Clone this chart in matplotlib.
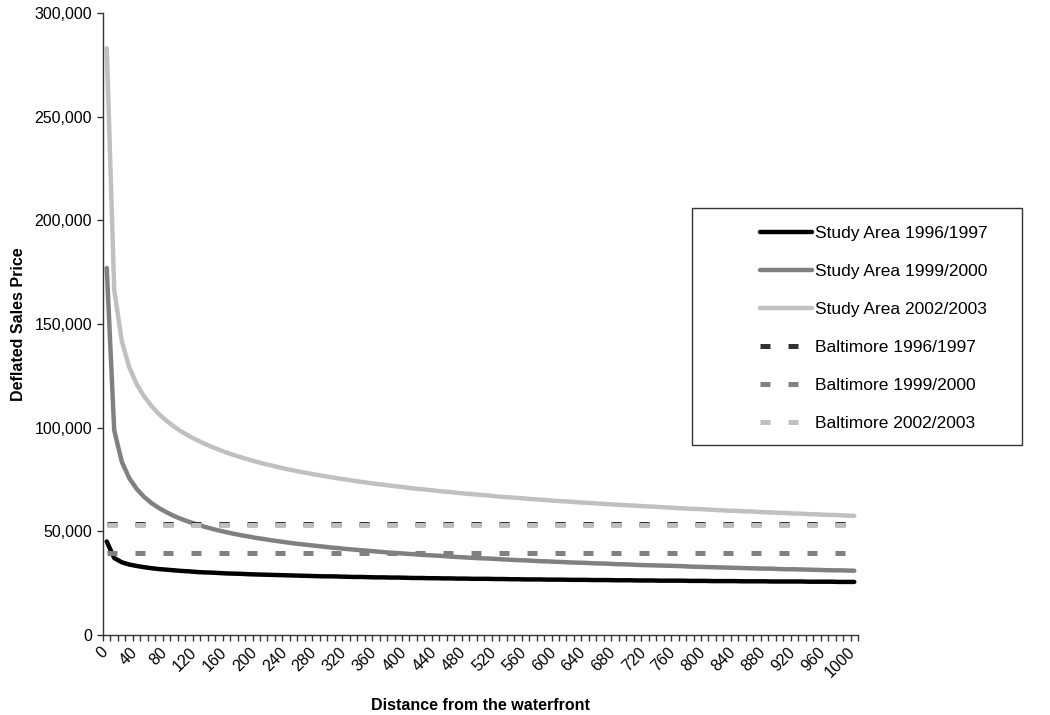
import numpy as np
import matplotlib.pyplot as plt
from matplotlib.patches import Rectangle
from matplotlib.ticker import FuncFormatter
from matplotlib.transforms import ScaledTranslation

plt.rcParams['font.family'] = ['Liberation Sans', 'DejaVu Sans']

# distance categories (every 10 units)
distance = list(range(0, 1001, 10))

# Study area curves
study_9697 = [
    45100, 37100, 35100, 34000, 33300, 32700, 32200, 31800, 31500, 31200,
    30900, 30700, 30400, 30200, 30100, 29900, 29700, 29600, 29500, 29300,
    29200, 29100, 29000, 28900, 28800, 28700, 28600, 28500, 28400, 28300,
    28300, 28200, 28100, 28000, 28000, 27900, 27800, 27800, 27700, 27700,
    27600, 27500, 27500, 27400, 27400, 27300, 27300, 27200, 27200, 27100,
    27100, 27100, 27000, 27000, 26900, 26900, 26800, 26800, 26800, 26700,
    26700, 26700, 26600, 26600, 26600, 26500, 26500, 26500, 26400, 26400,
    26400, 26300, 26300, 26300, 26200, 26200, 26200, 26200, 26100, 26100,
    26100, 26000, 26000, 26000, 26000, 25900, 25900, 25900, 25900, 25800,
    25800, 25800, 25800, 25800, 25700, 25700, 25700, 25700, 25600, 25600,
    25600,
]
study_9900 = [
    177000, 98800, 83700, 75700, 70500, 66600, 63600, 61200, 59200, 57400,
    55900, 54600, 53400, 52300, 51300, 50400, 49600, 48800, 48100, 47500,
    46800, 46300, 45700, 45200, 44700, 44200, 43800, 43400, 43000, 42600,
    42200, 41900, 41500, 41200, 40900, 40600, 40300, 40000, 39700, 39500,
    39200, 39000, 38700, 38500, 38300, 38100, 37800, 37600, 37400, 37200,
    37000, 36900, 36700, 36500, 36300, 36100, 36000, 35800, 35600, 35500,
    35300, 35200, 35000, 34900, 34800, 34600, 34500, 34400, 34200, 34100,
    34000, 33800, 33700, 33600, 33500, 33400, 33300, 33200, 33000, 32900,
    32800, 32700, 32600, 32500, 32400, 32300, 32200, 32100, 32000, 32000,
    31800, 31700, 31700, 31600, 31500, 31400, 31300, 31200, 31200, 31100,
    31000,
]
study_0203 = [
    283000, 166500, 142000, 129200, 121000, 115100, 110400, 106500, 103300, 100500,
    98100, 96000, 94100, 92400, 90800, 89400, 88000, 86800, 85700, 84600,
    83600, 82600, 81800, 80900, 80100, 79400, 78600, 78000, 77300, 76700,
    76100, 75500, 75000, 74400, 73900, 73400, 72900, 72500, 72000, 71600,
    71200, 70700, 70400, 70000, 69600, 69200, 68900, 68500, 68200, 67900,
    67600, 67300, 66900, 66600, 66400, 66100, 65800, 65500, 65300, 65000,
    64700, 64500, 64300, 64000, 63800, 63600, 63300, 63100, 62900, 62700,
    62500, 62300, 62100, 61900, 61700, 61500, 61300, 61100, 60900, 60800,
    60600, 60400, 60200, 60000, 59900, 59700, 59600, 59400, 59200, 59100,
    58900, 58800, 58600, 58500, 58300, 58200, 58000, 57900, 57800, 57600,
    57500,
]

# Baltimore reference levels
baltimore_9697 = 53600
baltimore_9900 = 39400
baltimore_0203 = 53000

fig = plt.figure(figsize=(10.5, 7.15), dpi=100)
ax = fig.add_axes([103 / 1050, 80 / 715, 755 / 1050, 622 / 715])

pos = np.arange(len(distance))

lw = 3.2
ax.plot(pos, study_9697, color='#000000', lw=lw, solid_capstyle='round',
        label='Study Area 1996/1997')
ax.plot(pos, study_9900, color='#808080', lw=lw, solid_capstyle='round',
        label='Study Area 1999/2000')
ax.plot(pos, study_0203, color='#c0c0c0', lw=lw, solid_capstyle='round',
        label='Study Area 2002/2003')

dash = (0, (2, 3.6))
ax.plot(pos, [baltimore_9697] * len(pos), color='#333333', lw=3.6, ls=dash,
        label='Baltimore 1996/1997')
ax.plot(pos, [baltimore_9900] * len(pos), color='#808080', lw=3.6, ls=dash,
        label='Baltimore 1999/2000')
ax.plot(pos, [baltimore_0203] * len(pos), color='#c0c0c0', lw=3.6, ls=dash,
        label='Baltimore 2002/2003')

ax.set_xlim(-0.5, len(distance) - 0.5)
ax.set_ylim(0, 300000)

# y axis
ax.set_yticks(np.arange(0, 300001, 50000))
ax.yaxis.set_major_formatter(FuncFormatter(lambda v, p: f'{int(v):,}'))
ax.tick_params(axis='y', direction='out', length=4.3, width=1, pad=3.5,
               labelsize=11.5, color='#333333')

# x axis: ticks between categories, labels every 4th category
ax.set_xticks(pos[::4])
ax.set_xticklabels([str(d) for d in distance[::4]], rotation=45,
                   ha='right', va='top', rotation_mode='anchor')
ax.set_xticks(np.arange(-0.5, len(distance), 1), minor=True)
ax.tick_params(axis='x', which='major', length=0, pad=9, labelsize=11.5)
ax.tick_params(axis='x', which='minor', direction='out', length=4,
               width=1, color='#333333')
shift = ScaledTranslation(-0.07, 0.03, fig.dpi_scale_trans)
for lab in ax.get_xticklabels():
    lab.set_transform(lab.get_transform() + shift)

for s in ['top', 'right']:
    ax.spines[s].set_visible(False)
for s in ['left', 'bottom']:
    ax.spines[s].set_color('#333333')
    ax.spines[s].set_linewidth(1)

ax.set_xlabel('Distance from the waterfront', fontsize=11.5,
              fontweight='bold', labelpad=13)
ax.set_ylabel('Deflated Sales Price', fontsize=11.5, fontweight='bold',
              labelpad=6)

# legend box
fig.patches.append(Rectangle((692 / 1050, 1 - 445 / 715), 330 / 1050,
                             237 / 715, transform=fig.transFigure,
                             fill=False, edgecolor='#333333', lw=1))
handles, labels = ax.get_legend_handles_labels()
fig.legend(handles, labels, loc='upper left',
           bbox_to_anchor=(760 / 1050, 1 - 226 / 715),
           frameon=False, fontsize=12.5, handlelength=3.0,
           handletextpad=0.15, labelspacing=1.32, borderpad=0,
           borderaxespad=0)

fig.savefig('out.png', dpi=100, facecolor='white')
